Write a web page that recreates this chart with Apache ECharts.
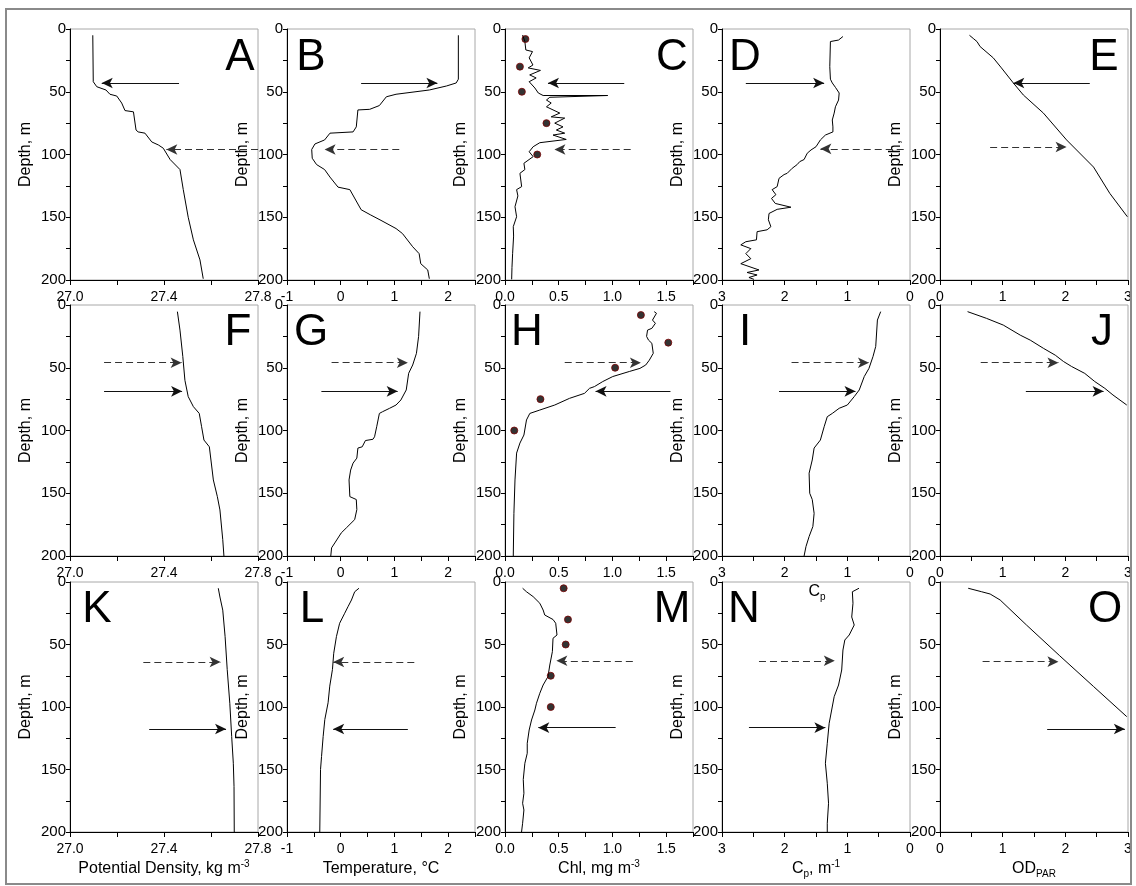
<!DOCTYPE html>
<html>
<head>
<meta charset="utf-8">
<script src="https://cdn.jsdelivr.net/npm/echarts@6/dist/echarts.min.js"></script>
<style>
html, body { margin: 0; padding: 0; background: #fff; }
#chart { width: 1136px; height: 886px; }
</style>
</head>
<body>
<div id="chart"></div>
<script>
// profiles as [value, depth (m)]
const profA = [[27.097,5],[27.099,42],[27.114,46],[27.153,48.6],[27.170,52],[27.199,53.4],[27.22,59],[27.234,65],[27.27,66],[27.281,80.5],[27.29,82],[27.319,83],[27.348,90],[27.376,92.4],[27.397,95],[27.426,104],[27.468,112],[27.482,128],[27.503,150],[27.525,168],[27.553,184],[27.567,199]];
const profB = [[2.19,5],[2.19,40],[2.15,43],[1.97,45.4],[1.65,48.6],[1.03,52],[0.85,54],[0.72,61],[0.54,64],[0.32,64.5],[0.29,78],[0.23,82],[-0.2,83],[-0.3,88.4],[-0.48,91.6],[-0.54,96],[-0.53,103],[-0.45,108],[-0.3,112],[-0.2,118],[-0.05,126],[0.17,128],[0.38,144],[0.55,148],[0.75,152.5],[1.03,159],[1.15,163],[1.34,173.5],[1.46,179],[1.49,187],[1.62,192],[1.65,199]];
const profC = [[0.164,4.8],[0.185,10],[0.194,16.7],[0.256,18],[0.225,23],[0.26,28.7],[0.216,31],[0.33,33],[0.23,36.6],[0.29,39],[0.225,42],[0.278,47],[0.31,51],[0.355,53],[0.956,53],[0.417,54.4],[0.386,56.6],[0.43,59],[0.386,62],[0.51,67],[0.43,70],[0.556,71],[0.463,75],[0.54,78],[0.478,80.5],[0.556,83],[0.447,84.5],[0.57,88],[0.324,90.6],[0.262,93.8],[0.225,97.8],[0.262,101.7],[0.176,107],[0.185,112],[0.139,115],[0.155,125.6],[0.108,128],[0.12,133],[0.093,141.6],[0.108,149.6],[0.077,157.5],[0.08,165],[0.071,178.7],[0.065,190],[0.062,199.5]];
const profD = [[1.07,6],[1.14,8.8],[1.27,10],[1.28,30],[1.27,40],[1.24,43],[1.19,46.5],[1.13,51],[1.14,56.6],[1.19,62],[1.21,67],[1.24,72.5],[1.23,78],[1.23,82],[1.35,84.5],[1.43,88.4],[1.5,93.8],[1.58,96.4],[1.64,99],[1.69,104],[1.76,105.7],[1.8,108],[1.88,111],[1.96,115],[2.01,116],[2.09,119],[2.12,125.6],[2.2,128],[2.14,132],[2.21,135],[2.15,139],[1.9,142],[2.12,143.7],[2.25,147],[2.26,152],[2.22,157.5],[2.28,160],[2.44,161.5],[2.45,168],[2.62,169.5],[2.7,172],[2.54,175],[2.62,179],[2.54,183],[2.7,187],[2.41,192],[2.6,194],[2.44,196],[2.57,198],[2.49,199.5]];
const profE = [[0.47,5],[0.53,7.5],[0.59,10],[0.64,14],[0.85,23],[0.98,31],[1.17,43],[1.33,52.6],[1.65,67],[2.02,88.4],[2.45,110],[2.71,131],[2.99,149.6]];
const profF = [[27.457,5.3],[27.468,20],[27.48,41],[27.489,60],[27.503,73],[27.525,81],[27.55,86.4],[27.56,97],[27.57,107.6],[27.593,113],[27.61,139.4],[27.627,152.7],[27.638,163.3],[27.65,187],[27.655,200]];
const profG = [[1.476,5.3],[1.45,25],[1.41,38.5],[1.34,47.8],[1.265,54.4],[1.22,67.7],[1.12,75.7],[1.03,79.7],[0.91,82.3],[0.78,85],[0.72,86.4],[0.67,97],[0.63,105],[0.6,107],[0.46,108],[0.4,113],[0.32,114],[0.3,122],[0.23,126],[0.185,131.5],[0.155,139.4],[0.17,152.7],[0.29,155],[0.3,163],[0.26,171],[0.105,177.6],[0.01,181.6],[-0.11,189.6],[-0.17,193.5],[-0.185,200]];
const profH = [[1.389,5.3],[1.41,6.6],[1.373,12],[1.4,14.6],[1.367,18.6],[1.327,20],[1.318,25],[1.336,28],[1.367,30.5],[1.38,38.5],[1.343,44],[1.31,47.8],[1.256,50.5],[1.157,53],[1.003,57],[0.91,61],[0.833,65],[0.787,66.4],[0.74,70.4],[0.6,74.4],[0.463,79.7],[0.324,83.7],[0.231,86.4],[0.2,91.6],[0.176,103.6],[0.139,110],[0.108,118],[0.093,139.4],[0.083,166],[0.077,200]];
const profI = [[0.468,5.3],[0.52,12],[0.547,33],[0.59,41],[0.655,50.5],[0.73,57],[0.81,67.7],[0.89,73],[1.0,79.7],[1.13,82.3],[1.24,86.4],[1.32,89],[1.37,97],[1.43,107.6],[1.53,114],[1.56,123.5],[1.61,134],[1.6,150],[1.56,155],[1.53,166],[1.55,176.5],[1.61,184.5],[1.66,192.5],[1.69,200]];
const profJ = [[0.44,5.3],[0.74,10.6],[1.01,16],[1.28,24],[1.44,28],[1.65,34.5],[1.84,40],[1.97,45],[2.1,49],[2.31,54.5],[2.47,61],[2.63,66.4],[2.76,71.7],[2.98,79.7]];
const profK = [[27.631,5],[27.638,12],[27.65,22.5],[27.66,43.7],[27.669,70],[27.68,97],[27.688,123.6],[27.695,145],[27.698,163.5],[27.699,200]];
const profL = [[0.34,5],[0.26,7.8],[0.2,14.4],[0.135,19.8],[0.074,25],[-0.02,33],[-0.08,43.7],[-0.13,57],[-0.154,70],[-0.204,83.3],[-0.235,96.6],[-0.296,110],[-0.327,123.6],[-0.357,139.6],[-0.376,150],[-0.39,200]];
const profM = [[0.164,5],[0.2,7.8],[0.262,11.7],[0.324,17],[0.355,22.4],[0.37,26.4],[0.447,30],[0.472,33],[0.484,42.4],[0.447,45],[0.441,55.7],[0.417,66.4],[0.4,75.7],[0.355,82.4],[0.324,89],[0.293,97],[0.278,102.4],[0.247,110.4],[0.225,118.4],[0.207,129],[0.207,137],[0.185,145],[0.17,158],[0.176,169],[0.164,177],[0.176,182.4],[0.164,193],[0.154,200]];
const profN = [[0.814,5],[0.92,7.8],[0.91,17],[0.93,28],[0.89,34.4],[0.97,42.4],[1.04,46.4],[1.07,54.4],[1.09,70.4],[1.14,82.4],[1.21,91.7],[1.25,102.4],[1.29,113],[1.32,129],[1.35,145],[1.32,161],[1.3,177],[1.32,193],[1.32,200]];
const profO = [[0.45,5],[0.665,7.8],[0.8,9.6],[0.96,14.4],[1.38,34.4],[1.91,59],[2.45,83.6],[2.98,107.7]];

// bottle samples [chl, depth]
const dotsC = [[0.19,8],[0.139,30],[0.157,50],[0.386,75],[0.30,100]];
const dotsH = [[1.265,8],[1.52,30],[1.025,50],[0.33,75],[0.086,100]];
const dotsM = [[0.546,5],[0.586,30],[0.565,50],[0.426,75],[0.426,100]];

// arrows [from value, to value, depth, line type]
const arrA = [[27.464,27.135,43,'solid'],[27.8,27.41,96,'dashed']];
const arrB = [[0.38,1.80,43,'solid'],[1.09,-0.30,96,'dashed']];
const arrC = [[1.11,0.40,43,'solid'],[1.17,0.46,96,'dashed']];
const arrD = [[2.62,1.37,43,'solid'],[0.1,1.43,95.5,'dashed']];
const arrE = [[2.39,1.17,43,'solid'],[0.80,2.02,94,'dashed']];
const arrF = [[27.145,27.475,46,'dashed'],[27.145,27.477,68.8,'solid']];
const arrG = [[-0.17,1.25,46,'dashed'],[-0.36,1.06,68.8,'solid']];
const arrH = [[0.556,1.265,46,'dashed'],[1.54,0.843,68.8,'solid']];
const arrI = [[1.89,0.655,46,'dashed'],[2.09,0.87,68.8,'solid']];
const arrJ = [[0.65,1.89,46,'dashed'],[1.37,2.61,68.8,'solid']];
const arrK = [[27.312,27.641,64,'dashed'],[27.337,27.664,117.6,'solid']];
const arrL = [[1.37,-0.14,64,'dashed'],[1.25,-0.14,117.6,'solid']];
const arrM = [[1.19,0.478,63,'dashed'],[1.03,0.31,116.5,'solid']];
const arrN = [[2.41,1.20,63,'dashed'],[2.57,1.35,116.5,'solid']];
const arrO = [[0.68,1.89,63.7,'dashed'],[1.71,2.95,117.6,'solid']];

const panelLetters = ['A','B','C','D','E','F','G','H','I','J','K','L','M','N','O'];
const depthTicks = [0, 50, 100, 150, 200];

const profiles = [profA,profB,profC,profD,profE,profF,profG,profH,profI,profJ,profK,profL,profM,profN,profO];
const arrows = [arrA,arrB,arrC,arrD,arrE,arrF,arrG,arrH,arrI,arrJ,arrK,arrL,arrM,arrN,arrO];
const dots = {2: dotsC, 7: dotsH, 12: dotsM};

const FONT = 'Liberation Sans, Arial, sans-serif';
const colLeft = [70, 287, 505, 722, 940];
const rowTop = [29, 305, 582];
const panelW = 188, panelH = 251;

// x scale per column
const cols = [
  { min: 27.0, max: 27.8, interval: 0.2, step: 0.4, dec: 1, inverse: false,
    name: '{t|Potential Density, kg m}{sup|-3}' },
  { min: -1, max: 2.5, interval: 0.5, step: 1, dec: 0, inverse: false,
    name: '{t|Temperature, °C}' },
  { min: 0, max: 1.75, interval: 0.25, step: 0.5, dec: 1, inverse: false,
    name: '{t|Chl, mg m}{sup|-3}' },
  { min: 0, max: 3, interval: 0.5, step: 1, dec: 0, inverse: true,
    name: '{t|C}{sub|p}{t|, m}{sup|-1}' },
  { min: 0, max: 3, interval: 0.5, step: 1, dec: 0, inverse: false,
    name: '{t|OD}{sub|PAR}' }
];
// letter placement (px)
const letterPos = [
  [240,58],[311,58],[672,58],[745,58],[1104,58],
  [238,333],[311,333],[527,333],[745,333],[1102,333],
  [97,610],[312,610],[672,610],[744,610],[1105,610]
];

const nameRich = {
  t: { fontSize: 16, color: '#000', fontFamily: FONT, lineHeight: 20 },
  sup: { fontSize: 10, color: '#000', fontFamily: FONT, verticalAlign: 'top', lineHeight: 10 },
  sub: { fontSize: 10, color: '#000', fontFamily: FONT, verticalAlign: 'bottom', lineHeight: 10 }
};

const grids = [], xAxes = [], yAxes = [], series = [], graphics = [];

for (let i = 0; i < 15; i++) {
  const r = Math.floor(i / 5), c = i % 5, col = cols[c];
  const zb = r * 10;
  grids.push({
    left: colLeft[c], top: rowTop[r], width: panelW, height: r === 2 ? 250 : panelH,
    show: true, backgroundColor: '#fff', borderColor: '#a8a8a8', borderWidth: 1,
    z: zb + 1, containLabel: false, outerBoundsMode: 'none'
  });
  xAxes.push({
    gridIndex: i, type: 'value', position: 'bottom',
    min: col.min, max: col.max, interval: col.interval, inverse: col.inverse,
    z: zb + 2,
    axisLine: { show: true, onZero: false, lineStyle: { color: '#000', width: 1 } },
    axisTick: { show: true, length: 5, lineStyle: { color: '#000' } },
    splitLine: { show: false },
    axisLabel: {
      show: true, margin: 10, fontSize: 14, color: '#000', fontFamily: FONT,
      showMinLabel: true, showMaxLabel: true, hideOverlap: false,
      formatter: v => {
        const k = (v - col.min) / col.step;
        return Math.abs(k - Math.round(k)) < 1e-6 ? v.toFixed(col.dec) : '';
      }
    },
    name: col.name, nameLocation: 'middle', nameGap: 27, nameMoveOverlap: false,
    nameTextStyle: { rich: nameRich }
  });
  yAxes.push({
    gridIndex: i, type: 'value', inverse: true, min: 0, max: 200, interval: 25,
    z: zb + 2,
    axisLine: { show: true, onZero: false, lineStyle: { color: '#000', width: 1 } },
    axisTick: { show: true, length: 4, lineStyle: { color: '#000' } },
    splitLine: { show: false },
    axisLabel: {
      show: true, margin: 4, fontSize: 15, color: '#000', fontFamily: FONT,
      showMinLabel: true, showMaxLabel: true, hideOverlap: false,
      formatter: v => depthTicks.indexOf(v) >= 0 ? String(v) : ''
    },
    name: 'Depth, m', nameLocation: 'middle', nameGap: 36, nameRotate: 90, nameMoveOverlap: false,
    nameTextStyle: { fontSize: 16, color: '#000', fontFamily: FONT }
  });
  series.push({
    type: 'line', xAxisIndex: i, yAxisIndex: i, data: profiles[i],
    showSymbol: false, symbol: 'none', clip: true, z: zb + 3, animation: false, silent: true,
    lineStyle: { color: '#000', width: 1 },
    markLine: {
      z: zb + 4, silent: true, animation: false, symbol: ['none', 'arrow'], symbolSize: [8, 11],
      label: { show: false },
      lineStyle: { color: '#111', width: 1, type: 'solid' },
      data: arrows[i].map(a => {
        const ls = { type: a[3] === 'dashed' ? [7, 4] : 'solid', color: a[3] === 'dashed' ? '#333' : '#111', width: 1 };
        return [{ coord: [a[0], a[2]], lineStyle: ls }, { coord: [a[1], a[2]], lineStyle: ls }];
      })
    }
  });
  if (dots[i]) {
    series.push({
      type: 'scatter', xAxisIndex: i, yAxisIndex: i, data: dots[i],
      symbolSize: 7, z: zb + 5, animation: false, silent: true,
      itemStyle: { color: '#000', borderColor: '#7a0000', borderWidth: 1 }
    });
  }
  graphics.push({
    type: 'text', x: letterPos[i][0], y: letterPos[i][1], z: zb + 6,
    style: {
      text: panelLetters[i], fontSize: 44, fontFamily: FONT, fill: '#000',
      align: 'center', verticalAlign: 'middle', textAlign: 'center', textVerticalAlign: 'middle'
    }
  });
}

// stray C_p label showing inside panel N
graphics.push({
  type: 'text', x: 817, y: 592, z: 40,
  style: {
    text: '{a|C}{b|p}', align: 'center', verticalAlign: 'middle', textAlign: 'center', textVerticalAlign: 'middle',
    rich: {
      a: { fontSize: 16, fontFamily: FONT, fill: '#000', color: '#000', lineHeight: 20 },
      b: { fontSize: 10, fontFamily: FONT, fill: '#000', color: '#000', verticalAlign: 'bottom', lineHeight: 10 }
    }
  }
});
// outer frame
graphics.push({
  type: 'rect', z: 50, silent: true,
  shape: { x: 6, y: 9, width: 1125, height: 875 },
  style: { fill: 'none', stroke: '#8a8a8a', lineWidth: 2 }
});

const chart = echarts.init(document.getElementById('chart'));
chart.setOption({
  animation: false,
  backgroundColor: '#fff',
  grid: grids,
  xAxis: xAxes,
  yAxis: yAxes,
  series: series,
  graphic: { elements: graphics }
});
</script>
</body>
</html>
